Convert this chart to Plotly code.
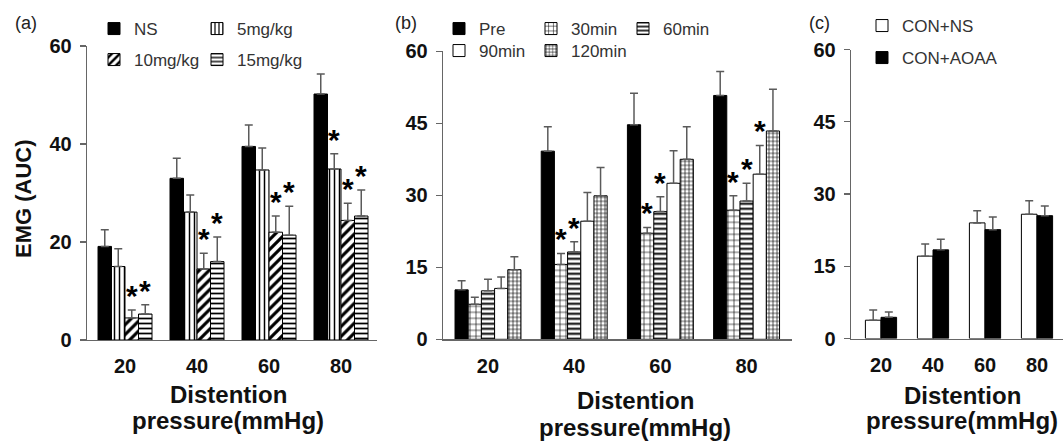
import plotly.graph_objects as go

W, H = 1063, 441
FONT = "Liberation Sans, Arial, sans-serif"

categories = ["20", "40", "60", "80"]

# Panel (a)
a_ns = [19.1, 33.0, 39.5, 50.2]
a_ns_err = [3.4, 4.1, 4.4, 4.1]
a_5 = [15.0, 26.1, 34.7, 34.9]
a_5_err = [3.6, 3.5, 4.5, 3.1]
a_10 = [4.5, 14.5, 22.0, 24.4]
a_10_err = [1.6, 3.2, 3.3, 3.5]
a_15 = [5.3, 16.0, 21.4, 25.3]
a_15_err = [1.9, 5.0, 5.9, 5.3]
a_5_sig = [0, 0, 0, 1]
a_10_sig = [1, 1, 1, 1]
a_15_sig = [1, 1, 1, 1]

# Panel (b)
b_pre = [10.3, 39.2, 44.7, 50.8]
b_pre_err = [1.9, 5.1, 6.55, 5.0]
b_30 = [7.3, 15.6, 22.1, 26.9]
b_30_err = [1.45, 2.3, 1.2, 3.0]
b_60 = [10.1, 18.2, 26.6, 28.8]
b_60_err = [2.4, 2.1, 3.1, 3.7]
b_90 = [10.6, 24.6, 32.5, 34.4]
b_90_err = [2.4, 6.0, 6.8, 6.0]
b_120 = [14.5, 29.9, 37.5, 43.4]
b_120_err = [2.7, 5.9, 6.8, 8.7]
b_30_sig = [0, 1, 1, 1]
b_60_sig = [0, 1, 1, 1]
b_90_sig = [0, 0, 0, 1]

# Panel (c)
c_ns = [3.8, 17.1, 24.0, 25.8]
c_ns_err = [2.1, 2.5, 2.5, 2.8]
c_aoaa = [4.4, 18.4, 22.6, 25.5]
c_aoaa_err = [1.1, 2.2, 2.6, 2.0]

a_ticks = [0, 20, 40, 60]
bc_ticks = [0, 15, 30, 45, 60]

nopat = dict(shape="")


def pat(shape, size, sol):
    return dict(shape=shape, size=size, solidity=sol, fgcolor="black",
                bgcolor="white", fillmode="replace")


# (name, values, errors, significance, fill, pattern, legend id, legend entry width)
panels = [
    dict(xa="x", ya="y", width=0.1875, series=[
        ("NS", a_ns, a_ns_err, None, "black", nopat, "legend", 58),
        ("5mg/kg", a_5, a_5_err, a_5_sig, "white", pat("|", 5, 0.3), "legend", 110),
        ("10mg/kg", a_10, a_10_err, a_10_sig, "white", pat("/", 7, 0.45), "legend2", 58),
        ("15mg/kg", a_15, a_15_err, a_15_sig, "white", pat("-", 5, 0.35), "legend2", 110),
    ]),
    dict(xa="x2", ya="y2", width=0.153, series=[
        ("Pre", b_pre, b_pre_err, None, "black", nopat, "legend3", 47),
        ("30min", b_30, b_30_err, b_30_sig, "white", pat("+", 6, 0.2), "legend3", 47),
        ("60min", b_60, b_60_err, b_60_sig, "white", pat("-", 5, 0.4), "legend3", 100),
        ("90min", b_90, b_90_err, b_90_sig, "white", nopat, "legend4", 47),
        ("120min", b_120, b_120_err, None, "white", pat("+", 4, 0.3), "legend4", 100),
    ]),
    dict(xa="x3", ya="y3", width=0.3, series=[
        ("CON+NS", c_ns, c_ns_err, None, "white", nopat, "legend5", 120),
        ("CON+AOAA", c_aoaa, c_aoaa_err, None, "black", nopat, "legend6", 120),
    ]),
]

fig = go.Figure()
annotations = []
xpos = list(range(len(categories)))

for p in panels:
    n = len(p["series"])
    w = p["width"]
    for k, (name, vals, errs, sig, color, pattern, leg, lw) in enumerate(p["series"]):
        off = -n * w / 2 + k * w
        fig.add_trace(go.Bar(
            x=xpos, y=vals, name=name, xaxis=p["xa"], yaxis=p["ya"],
            offset=off, width=w, legend=leg, legendwidth=lw,
            marker=dict(color=color, line=dict(color="black", width=1), pattern=pattern),
            error_y=dict(type="data", symmetric=False, array=errs,
                         arrayminus=[0] * len(errs), color="#5a5a5a",
                         thickness=1.5, width=4),
            showlegend=True, hoverinfo="skip",
        ))
        if sig:
            for i, s in enumerate(sig):
                if s:
                    annotations.append(dict(
                        x=xpos[i] + off + w / 2, y=vals[i] + errs[i],
                        xref=p["xa"], yref=p["ya"], text="*", showarrow=False,
                        yanchor="bottom", xanchor="center", yshift=-4,
                        font=dict(family=FONT, size=30, color="black", weight="bold"),
                    ))


def fx(px):
    return px / W


def fy(py):
    return 1 - py / H


axis_line = "#666"
tickfont = dict(family=FONT, size=20, color="#111", weight="bold")


def xaxis(dom, rng, anchor):
    return dict(domain=[fx(dom[0]), fx(dom[1])], range=rng, anchor=anchor,
                tickvals=xpos, ticktext=categories, showline=True,
                linecolor=axis_line, linewidth=1.3, ticks="", showgrid=False,
                zeroline=False, tickfont=tickfont, ticklabelstandoff=8,
                automargin=False, fixedrange=True)


def yaxis(dom, ticks, anchor):
    return dict(domain=[fy(dom[1]), fy(dom[0])], range=[0, 60], anchor=anchor,
                tickvals=ticks, showline=True, linecolor=axis_line, linewidth=1.3,
                ticks="outside", ticklen=6, tickcolor=axis_line, tickwidth=1.3,
                showgrid=False, zeroline=False, tickfont=tickfont,
                ticklabelstandoff=4, automargin=False, fixedrange=True)


legfont = dict(family=FONT, size=17, color="#333")


def legend(xpx, ypx):
    return dict(x=fx(xpx), y=fy(ypx), xanchor="left", yanchor="middle",
                orientation="h", font=legfont, bgcolor="rgba(0,0,0,0)",
                borderwidth=0, itemclick=False, itemdoubleclick=False)


# panel labels
for txt, xpx in [("(a)", 13), ("(b)", 393), ("(c)", 807)]:
    annotations.append(dict(x=fx(xpx), y=fy(23), xref="paper", yref="paper",
                            text=txt, showarrow=False, xanchor="left", yanchor="middle",
                            font=dict(family=FONT, size=18, color="#222")))

# x titles (two lines each)
title_font = dict(family=FONT, size=24, color="#111", weight="bold")
for xc, y1, y2 in [(228, 394, 420), (635, 400, 427), (962, 395, 420)]:
    annotations.append(dict(x=fx(xc), y=fy(y1), xref="paper", yref="paper",
                            text="Distention", showarrow=False,
                            xanchor="center", yanchor="middle", font=title_font))
    annotations.append(dict(x=fx(xc), y=fy(y2), xref="paper", yref="paper",
                            text="pressure(mmHg)", showarrow=False,
                            xanchor="center", yanchor="middle", font=title_font))

# y title
annotations.append(dict(x=fx(23), y=fy(199), xref="paper", yref="paper",
                        text="EMG (AUC)", showarrow=False, textangle=-90,
                        xanchor="center", yanchor="middle",
                        font=dict(family=FONT, size=22, color="#111", weight="bold")))

fig.update_layout(
    template="none",
    width=W, height=H,
    margin=dict(l=0, r=0, t=0, b=0, pad=0, autoexpand=False),
    paper_bgcolor="white", plot_bgcolor="white",
    barmode="overlay", hovermode=False,
    xaxis=xaxis([87, 377], [-0.528, 3.5], "y"),
    yaxis=yaxis([46, 340], a_ticks, "x"),
    xaxis2=xaxis([443, 792], [-0.522, 3.527], "y2"),
    yaxis2=yaxis([51.3, 339.3], bc_ticks, "x2"),
    xaxis3=xaxis([851, 1063], [-0.577, 3.5], "y3"),
    yaxis3=yaxis([49.5, 338.5], bc_ticks, "x3"),
    legend=legend(94, 29),
    legend2=legend(94, 60),
    legend3=legend(439, 29),
    legend4=legend(439, 51),
    legend5=legend(862, 26),
    legend6=legend(862, 58),
    annotations=annotations,
    showlegend=True,
)

fig.write_html(
    "out.html",
    config={"displayModeBar": False, "staticPlot": True},
    post_script="document.body.style.margin='0';document.body.style.overflow='hidden';",
)
